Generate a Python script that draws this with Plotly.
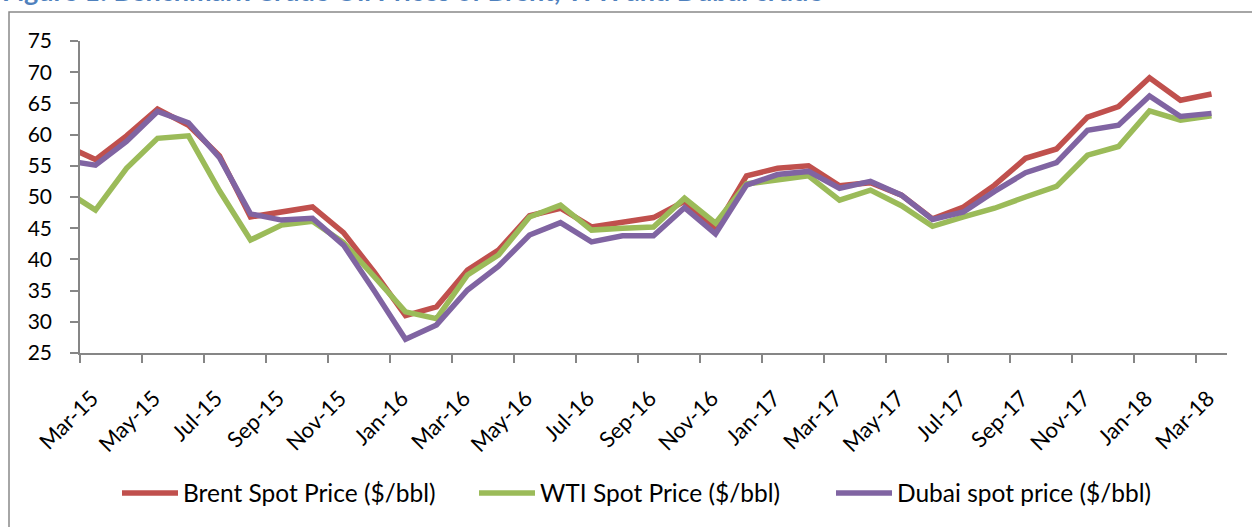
import plotly.graph_objects as go

# Months (Feb-15 sits just left of the axis start and is clipped, as in the source)
months = ["Feb-15", "Mar-15", "Apr-15", "May-15", "Jun-15", "Jul-15", "Aug-15", "Sep-15", "Oct-15",
          "Nov-15", "Dec-15", "Jan-16", "Feb-16", "Mar-16", "Apr-16", "May-16", "Jun-16", "Jul-16",
          "Aug-16", "Sep-16", "Oct-16", "Nov-16", "Dec-16", "Jan-17", "Feb-17", "Mar-17", "Apr-17",
          "May-17", "Jun-17", "Jul-17", "Aug-17", "Sep-17", "Oct-17", "Nov-17", "Dec-17", "Jan-18",
          "Feb-18", "Mar-18"]

brent = [58.3, 56.0, 59.8, 64.1, 61.5, 56.6, 46.8, 47.6, 48.4, 44.3, 37.9, 31.0, 32.4, 38.3, 41.5,
         47.0, 48.2, 45.2, 46.0, 46.7, 49.3, 45.0, 53.4, 54.6, 55.0, 51.8, 52.3, 50.3, 46.5, 48.4,
         51.9, 56.2, 57.7, 62.8, 64.5, 69.1, 65.5, 66.5]
wti = [51.1, 47.9, 54.6, 59.4, 59.8, 51.0, 43.1, 45.5, 46.1, 42.7, 37.2, 31.6, 30.5, 37.5, 40.7,
       46.8, 48.7, 44.7, 45.0, 45.2, 49.8, 45.8, 52.1, 52.7, 53.4, 49.5, 51.1, 48.6, 45.3, 46.8,
       48.2, 50.0, 51.7, 56.7, 58.1, 63.8, 62.3, 63.0]
dubai = [55.9, 55.1, 58.9, 63.7, 61.9, 56.3, 47.3, 46.3, 46.6, 42.3, 34.9, 27.2, 29.5, 35.1, 38.9,
         43.9, 45.9, 42.8, 43.8, 43.8, 48.3, 44.1, 51.9, 53.6, 54.1, 51.4, 52.5, 50.3, 46.4, 47.6,
         50.9, 53.9, 55.5, 60.7, 61.5, 66.2, 62.9, 63.4]

series_names = ["Brent Spot Price ($/bbl)", "WTI Spot Price ($/bbl)", "Dubai spot price ($/bbl)"]
series_colors = ["#C0504D", "#9BBB59", "#8064A2"]

tick_labels = ["Mar-15", "May-15", "Jul-15", "Sep-15", "Nov-15", "Jan-16", "Mar-16", "May-16",
               "Jul-16", "Sep-16", "Nov-16", "Jan-17", "Mar-17", "May-17", "Jul-17", "Sep-17",
               "Nov-17", "Jan-18", "Mar-18"]

title_text = "Figure 1: Benchmark Crude Oil Prices of Brent, WTI and Dubai crude"

# x position: category centre; Mar-15 slot starts at 0
xpos = [i - 0.5 for i in range(len(months))]
tick_pos = [months.index(t) - 1 for t in tick_labels]

FONT = "Lato, Calibri, Carlito, sans-serif"

fig = go.Figure()
for name, vals, col in zip(series_names, [brent, wti, dubai], series_colors):
    fig.add_trace(go.Scatter(x=xpos, y=vals, mode="lines", name=name,
                             line=dict(color=col, width=5.5), hoverinfo="skip"))

W, H = 1252, 527
L, R, T, B = 80, 25, 41, 174
pw = W - L - R
ph = H - T - B

def px_x(x):
    return (x - L) / pw

def px_y(y):
    return (H - B - y) / ph

fig.update_layout(
    width=W, height=H,
    margin=dict(l=L, r=R, t=T, b=B),
    paper_bgcolor="white", plot_bgcolor="white",
    font=dict(family=FONT, size=21, color="#000000"),
    showlegend=True,
    legend=dict(orientation="h", x=px_x(117), xanchor="left", y=px_y(493), yanchor="middle",
                font=dict(family=FONT, size=24.5, color="#000000"), itemwidth=56,
                entrywidth=286, entrywidthmode="pixels",
                bgcolor="rgba(0,0,0,0)"),
    xaxis=dict(range=[0, 37], tickmode="array", tickvals=tick_pos, ticktext=tick_labels,
               tickangle=-45, showgrid=False, zeroline=False, showline=True,
               linecolor="#868686", linewidth=1.5, ticks="outside", ticklen=8,
               tickcolor="#868686", tickwidth=1.5, ticklabelstandoff=14, ticklabelshift=12,
               tickfont=dict(family=FONT, size=22, color="#000000")),
    yaxis=dict(range=[25, 75], tickmode="array", tickvals=list(range(25, 80, 5)),
               showgrid=False, zeroline=False, showline=True, linecolor="#868686",
               linewidth=1.5, ticks="outside", ticklen=8, tickcolor="#868686", tickwidth=1.5,
               ticklabelstandoff=14, tickfont=dict(family=FONT, size=21, color="#000000")),
    shapes=[dict(type="rect", xref="paper", yref="paper",
                 x0=px_x(9), x1=px_x(1262), y0=px_y(540), y1=px_y(12),
                 line=dict(color="#898989", width=1.5), fillcolor="rgba(0,0,0,0)", layer="below")],
    annotations=[dict(text="<b>" + title_text + "</b>", xref="paper", yref="paper",
                      x=px_x(0), y=px_y(9), xanchor="left", yanchor="bottom", showarrow=False,
                      font=dict(family=FONT, size=27, color="#4F81BD"))],
)

fig.write_html("out.html", config={"displayModeBar": False},
               post_script="document.body.style.margin='0';document.body.style.overflow='hidden';")
